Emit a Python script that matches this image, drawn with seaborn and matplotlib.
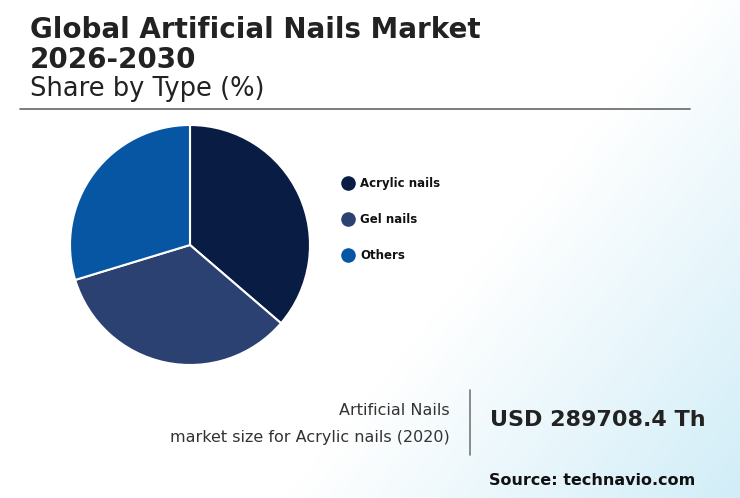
import matplotlib.pyplot as plt
import numpy as np
import seaborn as sns

sns.set_style("white")
plt.rcParams['font.family'] = ['DejaVu Sans']

types = ["Acrylic nails", "Gel nails", "Others"]
shares = [36.3, 34.0, 29.7]
colors = ["#081c44", "#2b4172", "#0756a4"]

W, H = 740, 498
fig = plt.figure(figsize=(W / 100, H / 100), dpi=100)

# background gradient (white -> light blue toward bottom right)
bg = fig.add_axes([0, 0, 1, 1])
xx, yy = np.meshgrid(np.linspace(0, 1, 200), np.linspace(0, 1, 200))
t = np.clip((xx * 0.9 + yy * 0.5) - 0.85, 0, 1) / 0.55
c0 = np.array([1.0, 1.0, 1.0])
c1 = np.array([0.82, 0.93, 0.97])
img = c0 + (c1 - c0) * t[..., None]
bg.imshow(img, extent=[0, W, H, 0], aspect='auto')
bg.set_xlim(0, W)
bg.set_ylim(H, 0)
bg.axis('off')

# pie
cx, cy, r = 190, 245, 120
ax = fig.add_axes([(cx - r) / W, 1 - (cy + r) / H, 2 * r / W, 2 * r / H])
ax.pie(shares, colors=colors, startangle=90, counterclock=False,
       wedgeprops=dict(edgecolor='white', linewidth=1.5))
ax.set_xlim(-1, 1)
ax.set_ylim(-1, 1)
ax.set_aspect('equal')
ax.axis('off')

# titles
bg.text(30, 30, "Global Artificial Nails Market", fontsize=20, fontweight='bold',
        color='#222222', va='center')
bg.text(30, 60, "2026-2030", fontsize=20, fontweight='bold', color='#222222', va='center')
bg.text(30, 89, "Share by Type (%)", fontsize=18.5, color='#222222', va='center')
bg.plot([20, 690], [109, 109], color='#666666', lw=1.2)

# legend
for i, (name, col) in enumerate(zip(types, colors)):
    y = 183 + 36 * i
    bg.scatter([348], [y], s=90, color=col)
    bg.text(360, y, name, fontsize=8.5, fontweight='bold', color='#111111', va='center')

# bottom info
bg.text(450, 410, "Artificial Nails", fontsize=11.5, color='#333333', ha='right', va='center')
bg.text(450, 437, "market size for Acrylic nails (2020)", fontsize=11.5, color='#333333',
        ha='right', va='center')
bg.plot([470, 470], [390, 455], color='#777777', lw=1.2)
bg.text(490, 420, "USD 289708.4 Th", fontsize=16, fontweight='bold', color='#222222',
        va='center')
bg.text(695, 480, "Source: technavio.com", fontsize=11.5, fontweight='bold', color='#111111',
        ha='right', va='center')

fig.savefig("out.png", dpi=100)
